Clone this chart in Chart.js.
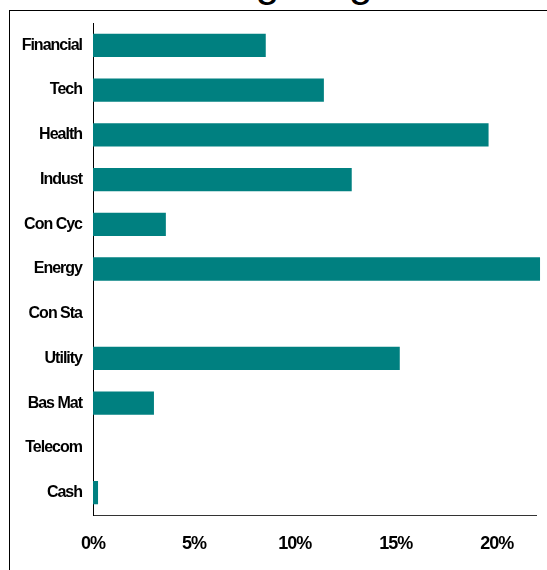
<html>
<head>
<title>Sector Weighting</title>
<script src="https://cdn.jsdelivr.net/npm/chart.js"></script>
<style>
  body { margin: 0; background: #fff; overflow: hidden; }
  #wrap { position: relative; width: 547px; height: 570px; }
  #frame { position: absolute; left: 9px; top: 10px; width: 600px; height: 600px; border-left: 1px solid #000; border-top: 1px solid #000; }
  #title { position: absolute; left: 46px; top: -39px; font: 43px "Liberation Sans", Arial, sans-serif; line-height: 40px; white-space: nowrap; color: #000; }
  #myChart { position: absolute; left: 0; top: 0; }
</style>
</head>
<body>
<div id="wrap">
  <div id="frame"></div>
  <div id="title">Sector Weighting</div>
  <canvas id="myChart" width="547" height="570"></canvas>
</div>
<script>
  const sectors = ['Financial', 'Tech', 'Health', 'Indust', 'Con Cyc', 'Energy', 'Con Sta', 'Utility', 'Bas Mat', 'Telecom', 'Cash'];
  const weights = [8.56, 11.44, 19.6, 12.82, 3.61, 22.15, 0, 15.2, 3.02, 0, 0.25];
  const xTicks = [0, 5, 10, 15, 20];

  // tighter letters, like the original's condensed bold labels
  const tightText = {
    id: 'tightText',
    beforeInit(chart) { chart.ctx.letterSpacing = '-1px'; },
    beforeDraw(chart) { chart.ctx.letterSpacing = '-1px'; }
  };

  var ctx = document.getElementById('myChart').getContext('2d');
  var myChart = new Chart(ctx, {
    type: 'bar',
    data: {
      labels: sectors,
      datasets: [{
        data: weights,
        backgroundColor: '#008080',
        borderWidth: 0,
        barPercentage: 0.52,
        categoryPercentage: 1,
        clip: false
      }]
    },
    options: {
      indexAxis: 'y',
      responsive: false,
      animation: false,
      layout: { padding: { top: 23, right: 11, left: 0, bottom: 0 } },
      plugins: { legend: { display: false }, tooltip: { enabled: false } },
      scales: {
        x: {
          min: 0,
          max: 21.95,
          afterBuildTicks(scale) { scale.ticks = xTicks.map(v => ({ value: v })); },
          afterFit(scale) { scale.height = 55; },
          grid: { display: false },
          border: { display: true, color: '#333', width: 1 },
          ticks: {
            padding: 10,
            color: '#000',
            font: { family: 'Liberation Sans', size: 18, weight: 'bold' },
            maxRotation: 0,
            callback: v => v + '%'
          }
        },
        y: {
          afterFit(scale) { scale.width = 93; },
          grid: { display: false },
          border: { display: true, color: '#000', width: 1 },
          ticks: {
            padding: 3,
            color: '#000',
            font: { family: 'Liberation Sans', size: 16, weight: 'bold' }
          }
        }
      }
    },
    plugins: [tightText]
  });
</script>
</body>
</html>
